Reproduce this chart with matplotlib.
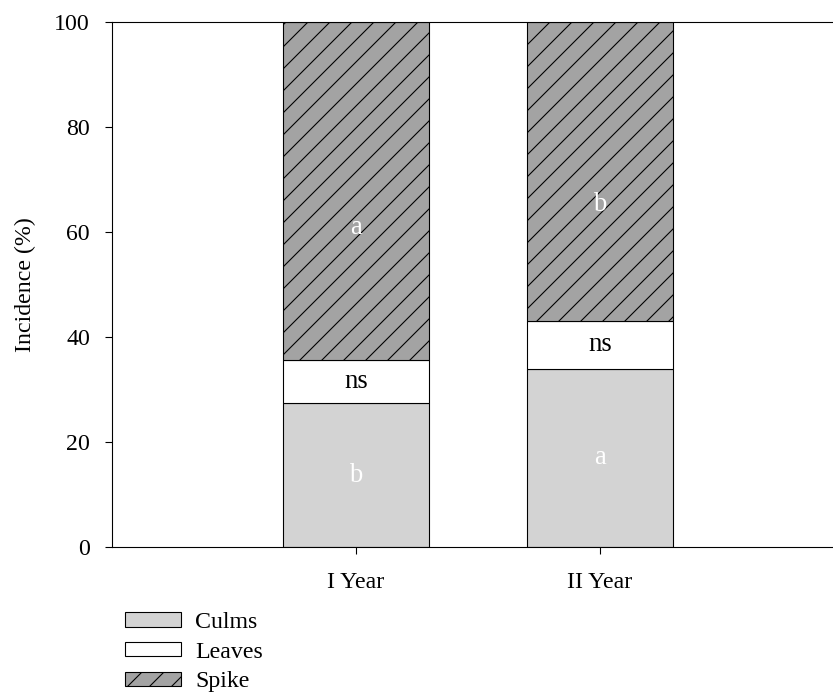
import matplotlib
matplotlib.use("Agg")
import matplotlib.pyplot as plt
import numpy as np

categories = ["I Year", "II Year"]
culms = [27.4, 34.0]
leaves = [8.3, 9.1]
spike = [64.3, 56.9]
culms_letters = ["b", "a"]
leaves_letters = ["ns", "ns"]
spike_letters = ["a", "b"]
yticks = [0, 20, 40, 60, 80, 100]

DPI = 132
plt.rcParams['font.family'] = ['Liberation Serif', 'DejaVu Serif']
plt.rcParams['hatch.linewidth'] = 0.6
plt.rcParams['hatch.color'] = 'black'

fig = plt.figure(figsize=(833 / DPI, 695 / DPI), dpi=DPI)
ax = fig.add_axes([112 / 833, 1 - 547 / 695, 732 / 833, (547 - 22) / 695])

x = np.arange(1, len(categories) + 1)
w = 0.6
lw = 0.6
b1 = ax.bar(x, culms, w, color='#d3d3d3', edgecolor='black', linewidth=lw, label='Culms')
bottom2 = np.array(culms)
b2 = ax.bar(x, leaves, w, bottom=bottom2, color='white', edgecolor='black', linewidth=lw, label='Leaves')
bottom3 = bottom2 + np.array(leaves)
b3 = ax.bar(x, spike, w, bottom=bottom3, color='#a3a3a3', edgecolor='black', linewidth=lw,
            hatch='//', label='Spike')

fs = 14.5
for i in range(len(categories)):
    ax.text(x[i], culms[i] * 0.5, culms_letters[i], ha='center', va='center', color='white', fontsize=fs)
    ax.text(x[i], bottom2[i] + leaves[i] * 0.5, leaves_letters[i], ha='center', va='center', color='black', fontsize=fs)
    ax.text(x[i], bottom3[i] + spike[i] * 0.39, spike_letters[i], ha='center', va='center', color='white', fontsize=fs)

ax.set_xlim(0, 3)
ax.set_ylim(0, 100)
ax.set_yticks(yticks)
ax.set_xticks(x)
ax.set_xticklabels(categories)
ax.spines['right'].set_visible(False)
for s in ['left', 'top', 'bottom']:
    ax.spines[s].set_linewidth(0.6)
ax.tick_params(axis='y', direction='out', length=4, width=0.6, pad=8, labelsize=13)
ax.tick_params(axis='x', direction='out', length=4, width=0.6, pad=9.5, labelsize=13)
ax.set_ylabel('Incidence (%)', fontsize=13, labelpad=10)

fig.legend(handles=[b1, b2, b3], labels=['Culms', 'Leaves', 'Spike'],
           loc='upper left', bbox_to_anchor=(125 / 833, 1 - 612 / 695),
           frameon=False, fontsize=13, handlelength=2.35, handleheight=0.55,
           labelspacing=0.36, handletextpad=0.6, borderpad=0, borderaxespad=0)

fig.savefig('out.png', dpi=DPI)
